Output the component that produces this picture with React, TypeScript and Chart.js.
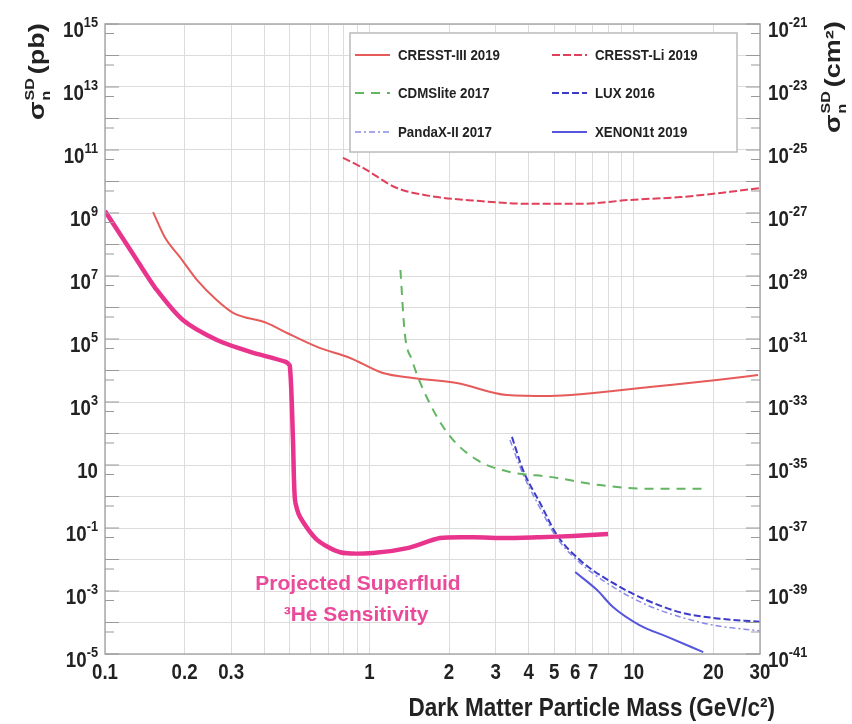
import React, { useEffect, useRef } from "react";
import { Chart, registerables } from "chart.js";

Chart.register(...registerables);

// ---------- data (mass in GeV/c^2, sigma in pb) ----------
const heMass = [0.1, 0.132, 0.157, 0.197, 0.265, 0.354, 0.48, 0.5, 0.514, 0.523, 0.547, 0.634, 0.774, 1.03, 1.39, 1.85, 2.47, 3.31, 4.42, 5.89, 7.99];
const heSigma = [1.15e9, 3.2e7, 3.6e6, 4.0e5, 9.3e4, 3.9e4, 1.9e4, 1.4e4, 62, 0.78, 0.22, 0.042, 0.017, 0.016, 0.023, 0.048, 0.051, 0.048, 0.051, 0.056, 0.065];

const cresst3Mass = [0.152, 0.169, 0.192, 0.223, 0.265, 0.305, 0.41, 0.488, 0.634, 0.845, 1.125, 1.46, 2.14, 3.31, 4.82, 6.42, 11.5, 20.6, 29.5];
const cresst3Sigma = [1.07e9, 1.6e8, 4.0e7, 7.4e6, 1.7e6, 6.8e5, 3.2e5, 1.55e5, 5.6e4, 2.5e4, 8.3e3, 5.8e3, 4.0e3, 1.66e3, 1.55e3, 1.78e3, 3.0e3, 5.0e3, 7.2e3];

const cresstLiMass = [0.794, 0.946, 1.27, 1.69, 2.62, 4.05, 6.26, 9.68, 15.0, 23.1, 30];
const cresstLiSigma = [5.6e10, 2.7e10, 6.2e9, 3.5e9, 2.4e9, 1.95e9, 1.95e9, 2.6e9, 3.2e9, 4.7e9, 6.2e9];

const cdmsMass = [1.31, 1.36, 1.45, 1.6, 1.97, 2.55, 3.4, 4.82, 7.45, 11.5, 18.9];
const cdmsSigma = [1.55e7, 1.55e5, 2.1e4, 2.4e3, 105, 14.5, 6.0, 4.2, 2.3, 1.75, 1.75];

const luxMass = [3.46, 3.81, 4.42, 5.12, 6.26, 8.34, 11.2, 15.0, 19.9, 30];
const luxSigma = [78, 6.9, 0.62, 0.06, 0.0095, 1.8e-3, 5.1e-4, 2.1e-4, 1.4e-4, 1.05e-4];

const pandaMass = [3.4, 3.81, 4.42, 5.12, 6.26, 8.34, 11.2, 15.0, 19.9, 30];
const pandaSigma = [62, 5.1, 0.43, 0.048, 7.8e-3, 1.35e-3, 3.6e-4, 1.5e-4, 8.3e-5, 5.4e-5];

const xenonMass = [6.0, 7.26, 8.34, 10.5, 13.4, 18.3];
const xenonSigma = [4.0e-3, 1.07e-3, 3.1e-4, 8.3e-5, 3.5e-5, 1.15e-5];

const seriesLabels = ["Projected Superfluid 3He", "CRESST-III 2019", "CRESST-Li 2019", "CDMSlite 2017", "LUX 2016", "PandaX-II 2017", "XENON1t 2019"];

// ---------- axes ----------
const xGridValues = [0.1, 0.2, 0.3, 0.4, 0.5, 0.6, 0.7, 0.8, 0.9, 1, 2, 3, 4, 5, 6, 7, 8, 9, 10, 20, 30];
const xTickValues = [0.1, 0.2, 0.3, 1, 2, 3, 4, 5, 6, 7, 10, 20, 30];
const xTickLabels = ["0.1", "0.2", "0.3", "1", "2", "3", "4", "5", "6", "7", "10", "20", "30"];
const yGridExponents = [15, 14, 13, 12, 11, 10, 9, 8, 7, 6, 5, 4, 3, 2, 1, 0, -1, -2, -3, -4, -5];
const yLabelExponents = [15, 13, 11, 9, 7, 5, 3, 1, -1, -3, -5];
const cm2Offset = -36; // 1 pb = 1e-36 cm^2

const xTitle = "Dark Matter Particle Mass (GeV/c²)";
const noteLine1 = "Projected Superfluid";
const noteLine2 = "³He Sensitivity";

const FONT = "'Liberation Sans', Arial, sans-serif";

function pts(xs: number[], ys: number[]) {
  return xs.map((x, i) => ({ x, y: ys[i] }));
}

function drawText(ctx: CanvasRenderingContext2D, s: string, x: number, y: number, size: number, align: CanvasTextAlign, sx = 1, color = "#222") {
  ctx.save();
  ctx.font = `bold ${size}px ${FONT}`;
  ctx.fillStyle = color;
  ctx.textAlign = align;
  ctx.textBaseline = "alphabetic";
  ctx.translate(x, y);
  ctx.scale(sx, 1);
  ctx.fillText(s, 0, 0);
  ctx.restore();
}

function measure(ctx: CanvasRenderingContext2D, s: string, size: number, sx = 1) {
  ctx.save();
  ctx.font = `bold ${size}px ${FONT}`;
  const w = ctx.measureText(s).width * sx;
  ctx.restore();
  return w;
}

const TICK_SX = 0.85;
const BASE = 22;
const EXP = 15;

function drawPow(ctx: CanvasRenderingContext2D, e: number, x: number, tickY: number, alignRight: boolean) {
  const base = "10";
  const exp = e === 1 ? "" : String(e);
  const wb = measure(ctx, base, BASE, TICK_SX);
  const we = exp ? measure(ctx, exp, EXP, TICK_SX) : 0;
  const start = alignRight ? x - wb - we : x;
  drawText(ctx, base, start, tickY + 13, BASE, "left", TICK_SX);
  if (exp) drawText(ctx, exp, start + wb, tickY + 3, EXP, "left", TICK_SX);
}

function drawRotatedTitle(ctx: CanvasRenderingContext2D, baseX: number, startY: number, unit: string) {
  const F = 27;
  const S = 16;
  const squeeze = 0.8;
  ctx.save();
  ctx.translate(baseX, startY);
  ctx.rotate(-Math.PI / 2);
  ctx.scale(1, squeeze);
  ctx.fillStyle = "#222";
  ctx.textAlign = "left";
  ctx.font = `bold ${F}px ${FONT}`;
  ctx.fillText("σ", 0, 0);
  const ws = ctx.measureText("σ").width;
  ctx.font = `bold ${S}px ${FONT}`;
  ctx.fillText("SD", ws + 1, -13);
  const wsd = ctx.measureText("SD").width;
  ctx.fillText("n", ws + 1, 7);
  ctx.font = `bold ${F}px ${FONT}`;
  ctx.fillText(unit, ws + 1 + wsd + 4, 0);
  ctx.restore();
}

const overlayPlugin = {
  id: "overlay",
  afterDraw(chart: any) {
    const ctx: CanvasRenderingContext2D = chart.ctx;
    const area = chart.chartArea;
    const xs = chart.scales.x;
    const ys = chart.scales.y;
    const y2 = chart.scales.y2;

    // frame
    ctx.save();
    ctx.strokeStyle = "#aaaaaa";
    ctx.lineWidth = 1.5;
    ctx.strokeRect(area.left, area.top, area.right - area.left, area.bottom - area.top);

    // y tick marks (major at decades, minor at 5 x 10^(n-1))
    ctx.strokeStyle = "#999999";
    ctx.lineWidth = 1.2;
    yGridExponents.forEach((e) => {
      const py = ys.getPixelForValue(Math.pow(10, e));
      const pm = ys.getPixelForValue(5 * Math.pow(10, e - 1));
      ctx.beginPath();
      ctx.moveTo(area.left, py); ctx.lineTo(area.left + 14, py);
      ctx.moveTo(area.right, py); ctx.lineTo(area.right - 14, py);
      if (pm < area.bottom - 2) {
        ctx.moveTo(area.left, pm); ctx.lineTo(area.left + 9, pm);
        ctx.moveTo(area.right, pm); ctx.lineTo(area.right - 9, pm);
      }
      ctx.stroke();
    });
    ctx.restore();

    // y labels left (pb) and right (cm^2)
    yLabelExponents.forEach((e) => {
      const py = ys.getPixelForValue(Math.pow(10, e));
      drawPow(ctx, e, area.left - 7, py, true);
      const py2 = y2.getPixelForValue(Math.pow(10, e + cm2Offset));
      drawPow(ctx, e + cm2Offset, area.right + 8, py2, false);
    });

    // x labels
    xTickValues.forEach((v, i) => {
      const px = xs.getPixelForValue(v);
      drawText(ctx, xTickLabels[i], px, area.bottom + 25, BASE, "center", TICK_SX);
    });

    // axis titles
    drawText(ctx, xTitle, area.right + 15, area.bottom + 62, 25, "right", 0.9);
    drawRotatedTitle(ctx, 44, 120, "(pb)");
    drawRotatedTitle(ctx, 840, 133, "(cm²)");

    // legend box
    const lx = 350, ly = 33, lw = 387, lh = 119;
    ctx.save();
    ctx.fillStyle = "#ffffff";
    ctx.fillRect(lx, ly, lw, lh);
    ctx.strokeStyle = "#bbbbbb";
    ctx.lineWidth = 1.5;
    ctx.strokeRect(lx, ly, lw, lh);
    ctx.restore();
    const rows = [55, 93, 132];
    const cols = [355, 552];
    chart.data.datasets.slice(1).forEach((ds: any, i: number) => {
      const cx = cols[i % 2];
      const cy = rows[Math.floor(i / 2)];
      ctx.save();
      ctx.strokeStyle = ds.borderColor;
      ctx.lineWidth = ds.borderWidth;
      ctx.setLineDash(ds.borderDash || []);
      ctx.beginPath();
      ctx.moveTo(cx, cy);
      ctx.lineTo(cx + 35, cy);
      ctx.stroke();
      ctx.restore();
      drawText(ctx, ds.label, cx + 43, cy + 5, 14, "left", 0.95);
    });

    // annotation
    drawText(ctx, noteLine1, 358, 590, 21, "center", 1, "#ea4a9a");
    drawText(ctx, noteLine2, 356, 621, 21, "center", 1, "#ea4a9a");
  },
};

export default function App() {
  const ref = useRef<HTMLCanvasElement | null>(null);

  useEffect(() => {
    if (!ref.current) return;
    const common = { pointRadius: 0, fill: false, cubicInterpolationMode: "monotone" as const };
    const chart = new Chart(ref.current, {
      type: "line",
      data: {
        datasets: [
          { ...common, label: seriesLabels[0], data: pts(heMass, heSigma), borderColor: "#e8348c", borderWidth: 4.5, cubicInterpolationMode: "default", tension: 0.25 },
          { ...common, label: seriesLabels[1], data: pts(cresst3Mass, cresst3Sigma), borderColor: "#e65a5a", borderWidth: 2 },
          { ...common, label: seriesLabels[2], data: pts(cresstLiMass, cresstLiSigma), borderColor: "#e0405a", borderWidth: 2, borderDash: [8, 3] },
          { ...common, label: seriesLabels[3], data: pts(cdmsMass, cdmsSigma), borderColor: "#62b562", borderWidth: 2, borderDash: [9, 7] },
          { ...common, label: seriesLabels[4], data: pts(luxMass, luxSigma), borderColor: "#3c3cc8", borderWidth: 2, borderDash: [7, 3] },
          { ...common, label: seriesLabels[5], data: pts(pandaMass, pandaSigma), borderColor: "#8a8ae6", borderWidth: 1.5, borderDash: [6, 3, 2, 3] },
          { ...common, label: seriesLabels[6], data: pts(xenonMass, xenonSigma), borderColor: "#5656dc", borderWidth: 2 },
        ],
      },
      options: {
        responsive: false,
        animation: false,
        layout: { padding: { left: 105, right: 92, top: 24, bottom: 70 } },
        plugins: { legend: { display: false }, tooltip: { enabled: false } },
        scales: {
          x: {
            type: "logarithmic",
            min: 0.1,
            max: 30,
            afterBuildTicks: (s: any) => { s.ticks = xGridValues.map((v) => ({ value: v })); },
            ticks: { display: false },
            grid: { color: "#dcdcdc", lineWidth: 1, drawTicks: false },
            border: { display: false },
          },
          y: {
            type: "logarithmic",
            min: 1e-5,
            max: 1e15,
            afterBuildTicks: (s: any) => { s.ticks = yGridExponents.map((e) => ({ value: Math.pow(10, e) })); },
            ticks: { display: false },
            grid: { color: "#dcdcdc", lineWidth: 1, drawTicks: false },
            border: { display: false },
          },
          y2: {
            type: "logarithmic",
            position: "right",
            min: Math.pow(10, -5 + cm2Offset),
            max: Math.pow(10, 15 + cm2Offset),
            afterBuildTicks: (s: any) => { s.ticks = yLabelExponents.map((e) => ({ value: Math.pow(10, e + cm2Offset) })); },
            ticks: { display: false },
            grid: { display: false, drawTicks: false },
            border: { display: false },
          },
        },
      },
      plugins: [overlayPlugin],
    });
    return () => chart.destroy();
  }, []);

  return (
    <div style={{ position: "fixed", left: 0, top: 0, width: 852, height: 724, background: "#fff" }}>
      <canvas ref={ref} width={852} height={724} style={{ width: 852, height: 724 }} />
    </div>
  );
}
